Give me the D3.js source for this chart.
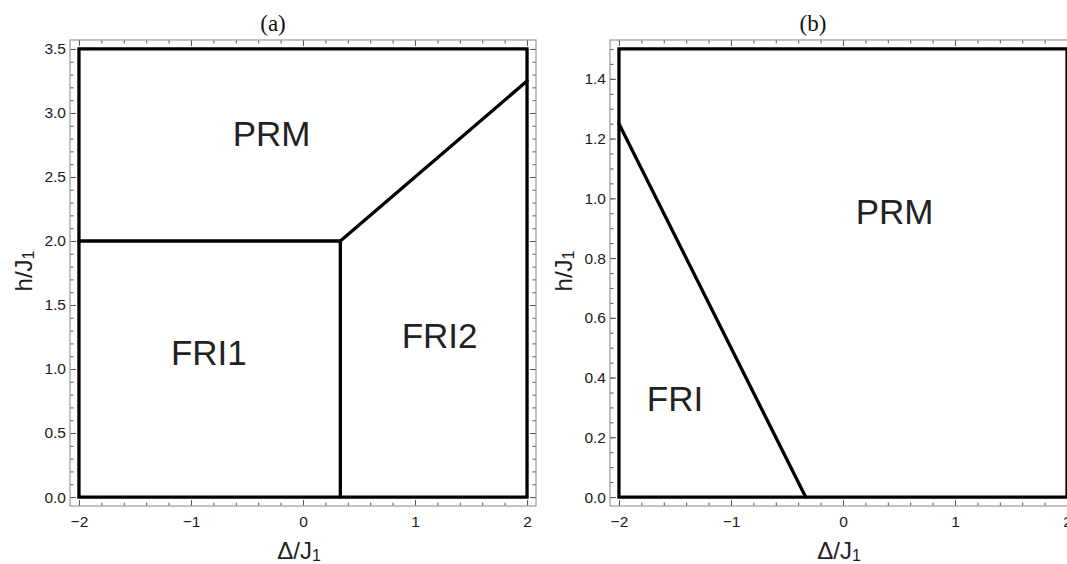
<!DOCTYPE html>
<html>
<head>
<meta charset="utf-8">
<script src="https://cdn.jsdelivr.net/npm/d3@7"></script>
<style>
  body { margin: 0; background: #fff; }
  svg { display: block; }
  .tick text { font-family: "Liberation Sans", Arial, sans-serif; font-size: 15.5px; fill: #1a1a1a; }
  .tick line { stroke: #555; }
</style>
</head>
<body>
<div id="chart"></div>
<script>
// phase diagrams (a) and (b)

const xTickValues = [-2, -1, 0, 1, 2];
const yTickValuesA = [0, 0.5, 1, 1.5, 2, 2.5, 3, 3.5];
const yTickValuesB = [0, 0.2, 0.4, 0.6, 0.8, 1.0, 1.2, 1.4];

// outer boundary of each region plot
const regionA = [[-2, 0], [2, 0], [2, 3.5], [-2, 3.5]];
const regionB = [[-2, 0], [2, 0], [2, 1.5], [-2, 1.5]];

// phase boundaries
const linesA = [
  [[-2, 2], [1 / 3, 2]],
  [[1 / 3, 0], [1 / 3, 2]],
  [[1 / 3, 2], [2, 3.25]]
];
const linesB = [
  [[-2, 1.25], [-1 / 3, 0]]
];

// phase names
const labelsA = [
  {text: 'PRM', x: -0.28, y: 2.84},
  {text: 'FRI1', x: -0.84, y: 1.13},
  {text: 'FRI2', x: 1.22, y: 1.26}
];
const labelsB = [
  {text: 'PRM', x: 0.46, y: 0.956},
  {text: 'FRI', x: -1.5, y: 0.33}
];

const W = 1067, H = 564;
const size = 466;
const sans = '"Liberation Sans", Arial, sans-serif';

const svg = d3.select('#chart').append('svg')
  .attr('width', W)
  .attr('height', H);

function drawPanel(left, yMax, yMajor, yStep, yFmt, region, lines, labels, title) {
  const g = svg.append('g').attr('transform', `translate(${left},40)`);

  // 2% padding like Mathematica
  const x = d3.scaleLinear().domain([-2.08, 2.08]).range([0, size]);
  const yPad = yMax * 0.02;
  const y = d3.scaleLinear().domain([-yPad, yMax + yPad]).range([size, 0]);

  const xMinor = d3.range(-2, 2.0001, 0.2).map(d => +d.toFixed(2));
  const yMinor = d3.range(0, yMax + 0.0001, yStep).map(d => +d.toFixed(2));

  const strip = a => a.select('.domain').remove();

  // minor ticks on all four sides
  g.append('g').attr('transform', `translate(0,${size})`)
    .call(d3.axisBottom(x).tickValues(xMinor).tickSizeInner(-3.5).tickSizeOuter(0).tickFormat(''))
    .call(strip);
  g.append('g')
    .call(d3.axisTop(x).tickValues(xMinor).tickSizeInner(-3.5).tickSizeOuter(0).tickFormat(''))
    .call(strip);
  g.append('g')
    .call(d3.axisLeft(y).tickValues(yMinor).tickSizeInner(-3.5).tickSizeOuter(0).tickFormat(''))
    .call(strip);
  g.append('g').attr('transform', `translate(${size},0)`)
    .call(d3.axisRight(y).tickValues(yMinor).tickSizeInner(-3.5).tickSizeOuter(0).tickFormat(''))
    .call(strip);

  // major ticks
  g.append('g').attr('transform', `translate(0,${size})`)
    .call(d3.axisBottom(x).tickValues(xTickValues).tickSizeInner(-6).tickSizeOuter(0)
      .tickPadding(10).tickFormat(d3.format('d')))
    .call(strip);
  g.append('g')
    .call(d3.axisTop(x).tickValues(xTickValues).tickSizeInner(-6).tickSizeOuter(0).tickFormat(''))
    .call(strip);
  g.append('g')
    .call(d3.axisLeft(y).tickValues(yMajor).tickSizeInner(-6).tickSizeOuter(0)
      .tickPadding(4).tickFormat(d3.format(yFmt)))
    .call(strip);
  g.append('g').attr('transform', `translate(${size},0)`)
    .call(d3.axisRight(y).tickValues(yMajor).tickSizeInner(-6).tickSizeOuter(0).tickFormat(''))
    .call(strip);

  // frame
  g.append('rect')
    .attr('width', size)
    .attr('height', size)
    .attr('fill', 'none')
    .attr('stroke', '#999')
    .attr('stroke-width', 1.2);

  const line = d3.line().x(d => x(d[0])).y(d => y(d[1]));

  g.append('path')
    .attr('d', line(region) + 'Z')
    .attr('fill', 'none')
    .attr('stroke', '#000')
    .attr('stroke-width', 3.3)
    .attr('stroke-linejoin', 'miter');

  g.selectAll('.bound')
    .data(lines)
    .enter()
    .append('path')
    .attr('class', 'bound')
    .attr('d', line)
    .attr('fill', 'none')
    .attr('stroke', '#000')
    .attr('stroke-width', 3.3)
    .attr('stroke-linecap', 'round');

  g.selectAll('.phase')
    .data(labels)
    .enter()
    .append('text')
    .attr('class', 'phase')
    .attr('x', d => x(d.x))
    .attr('y', d => y(d.y))
    .attr('dy', '0.36em')
    .attr('text-anchor', 'middle')
    .attr('font-family', sans)
    .attr('font-size', 35)
    .attr('fill', '#222')
    .text(d => d.text);

  // title
  g.append('text')
    .attr('x', 203)
    .attr('y', -9)
    .attr('text-anchor', 'middle')
    .attr('font-family', '"Liberation Serif", "DejaVu Serif", serif')
    .attr('font-size', 23)
    .attr('fill', '#111')
    .text(title);

  // x label
  const xl = g.append('text')
    .attr('x', size / 2 - 4)
    .attr('y', 519)
    .attr('text-anchor', 'middle')
    .attr('font-family', sans)
    .attr('font-size', 24)
    .attr('fill', '#222');
  xl.append('tspan').text('\u0394/J');
  xl.append('tspan').attr('font-size', 16).attr('dy', 2).text('1');

  // y label
  const yl = g.append('text')
    .attr('transform', `translate(-38,${size / 2 - 2}) rotate(-90)`)
    .attr('text-anchor', 'middle')
    .attr('font-family', sans)
    .attr('font-size', 24)
    .attr('fill', '#222');
  yl.append('tspan').text('h/J');
  yl.append('tspan').attr('font-size', 16).attr('dy', 2).text('1');
}

drawPanel(70, 3.5, yTickValuesA, 0.1, '.1f', regionA, linesA, labelsA, '(a)');
drawPanel(610, 1.5, yTickValuesB, 0.05, '.1f', regionB, linesB, labelsB, '(b)');
</script>
</body>
</html>
